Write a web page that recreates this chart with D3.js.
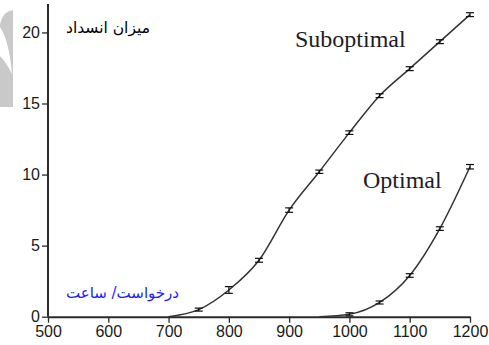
<!DOCTYPE html>
<html>
<head>
<meta charset="utf-8">
<script src="https://cdn.jsdelivr.net/npm/d3@7/dist/d3.min.js"></script>
<style>
  html, body { margin: 0; padding: 0; background: #fff; }
  svg { display: block; }
</style>
</head>
<body>
<script>
// ---- data ----
const xTicks = [500, 600, 700, 800, 900, 1000, 1100, 1200];
const yTicks = [0, 5, 10, 15, 20];

const subX   = [700, 750, 800, 850, 900, 950, 1000, 1050, 1100, 1150, 1200];
const subY   = [0, 0.5, 1.88, 3.97, 7.5, 10.2, 12.95, 15.55, 17.45, 19.35, 21.25];
const subErr = [0, 0.05, 0.18, 0.08, 0.1, 0.06, 0.07, 0.08, 0.08, 0.08, 0.08];

const optX   = [950, 1000, 1050, 1100, 1150, 1200];
const optY   = [0, 0.17, 1.0, 2.9, 6.2, 10.55];
const optErr = [0, 0.05, 0.05, 0.07, 0.07, 0.1];

const seriesLabels = ["Suboptimal", "Optimal"];
const yTitle = "میزان انسداد";
const xTitle = "درخواست/ ساعت";

// ---- layout ----
const W = 489, H = 345;
const svg = d3.select("body").append("svg").attr("width", W).attr("height", H);
svg.append("rect").attr("width", W).attr("height", H).attr("fill", "#fff");

// watermark fragment
svg.append("path")
  .attr("d", "M0,24 Q3,11 13,10 L13,107 L0,107 Z")
  .attr("fill", "#c9c9c9");
svg.append("path")
  .attr("d", "M0,27 Q9,40 12,74 Q6,62 0,56 Z")
  .attr("fill", "#fff");

const x = d3.scaleLinear().domain([500, 1200]).range([48, 470]);
const y = d3.scaleLinear().domain([0, 22]).range([316.7, 4]);

const axisColor = "#2b2b2b";

const gx = svg.append("g").attr("transform", `translate(0,${y(0)})`)
  .call(d3.axisBottom(x).tickValues(xTicks).tickFormat(d3.format("d"))
    .tickSize(6).tickPadding(3).tickSizeOuter(0));
const gy = svg.append("g").attr("transform", `translate(${x(500)},0)`)
  .call(d3.axisLeft(y).tickValues(yTicks).tickFormat(d3.format("d"))
    .tickSize(6).tickPadding(2).tickSizeOuter(0));

[gx, gy].forEach(g => {
  g.select(".domain").attr("stroke", axisColor).attr("stroke-width", 2);
  g.selectAll(".tick line").attr("stroke", axisColor).attr("stroke-width", 1.3);
  g.selectAll(".tick text")
    .attr("fill", "#1a1a1a")
    .attr("font-family", "Liberation Sans, Arial, sans-serif")
    .attr("font-size", 16);
});
gy.select(".domain").attr("d", `M0,${y(0)}V4`);

const line = d3.line()
  .x(d => x(d[0]))
  .y(d => y(d[1]))
  .curve(d3.curveMonotoneX);

function drawSeries(xs, ys, es) {
  const pts = xs.map((v, i) => [v, ys[i], es[i]]);
  svg.append("path")
    .datum(pts)
    .attr("d", line)
    .attr("fill", "none")
    .attr("stroke", "#333")
    .attr("stroke-width", 1.5);
  const eb = svg.append("g");
  pts.filter(p => p[1] > 0).forEach(p => {
    const cx = x(p[0]);
    const y1 = y(p[1] + p[2]) - 0.8, y2 = y(p[1] - p[2]) + 0.8;
    eb.append("line").attr("x1", cx).attr("x2", cx).attr("y1", y1).attr("y2", y2)
      .attr("stroke", "#111").attr("stroke-width", 1.2);
    [y1, y2].forEach(yy => eb.append("line")
      .attr("x1", cx - 4).attr("x2", cx + 4).attr("y1", yy).attr("y2", yy)
      .attr("stroke", "#111").attr("stroke-width", 1.2));
  });
}
drawSeries(subX, subY, subErr);
drawSeries(optX, optY, optErr);

// series labels
svg.append("text").attr("x", 295).attr("y", 46.5)
  .attr("font-family", "Liberation Serif, Times New Roman, serif")
  .attr("font-size", 24).attr("fill", "#1c1c2a")
  .text(seriesLabels[0]);
svg.append("text").attr("x", 363).attr("y", 187.5)
  .attr("font-family", "Liberation Serif, Times New Roman, serif")
  .attr("font-size", 24).attr("fill", "#1c1c2a")
  .text(seriesLabels[1]);

// Persian titles
svg.append("text").attr("x", 108).attr("y", 33)
  .attr("text-anchor", "middle").attr("direction", "rtl")
  .attr("font-family", "DejaVu Sans, Noto Sans, sans-serif")
  .attr("font-size", 15.5).attr("fill", "#000")
  .text(yTitle);
svg.append("text").attr("x", 122.5).attr("y", 298)
  .attr("text-anchor", "middle").attr("direction", "rtl")
  .attr("font-family", "DejaVu Sans, Noto Sans, sans-serif")
  .attr("font-size", 15).attr("fill", "#1a1aff")
  .text(xTitle);
</script>
</body>
</html>
